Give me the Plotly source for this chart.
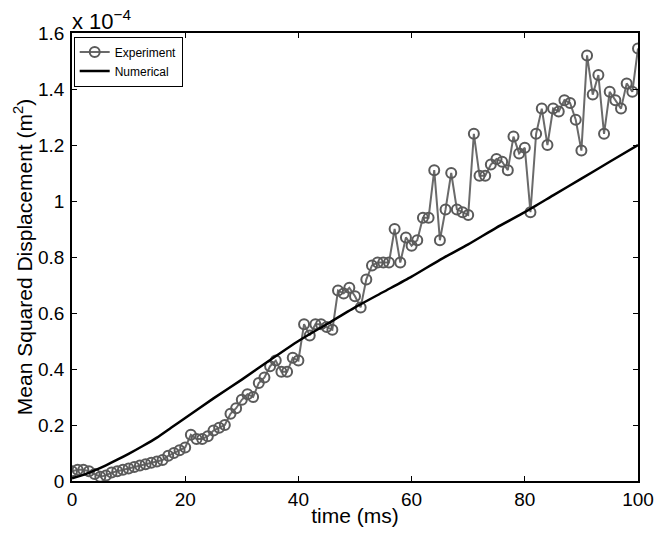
import plotly.graph_objects as go

# values in units of 1e-4 m^2
time_exp = list(range(0, 101))
msd_exp = [
    0.035, 0.04, 0.04, 0.035, 0.025, 0.015, 0.02, 0.03, 0.035, 0.04,
    0.045, 0.05, 0.055, 0.06, 0.065, 0.07, 0.075, 0.09, 0.10, 0.11,
    0.12, 0.165, 0.15, 0.15, 0.16, 0.18, 0.19, 0.20, 0.24, 0.26,
    0.29, 0.31, 0.30, 0.35, 0.37, 0.41, 0.43, 0.39, 0.39, 0.44,
    0.43, 0.56, 0.52, 0.56, 0.56, 0.55, 0.54, 0.68, 0.67, 0.69,
    0.66, 0.62, 0.72, 0.77, 0.78, 0.78, 0.78, 0.90, 0.78, 0.87,
    0.84, 0.86, 0.94, 0.94, 1.11, 0.86, 0.97, 1.10, 0.97, 0.96,
    0.95, 1.24, 1.09, 1.09, 1.13, 1.15, 1.14, 1.11, 1.23, 1.17,
    1.19, 0.96, 1.24, 1.33, 1.20, 1.33, 1.32, 1.36, 1.35, 1.29,
    1.18, 1.52, 1.38, 1.45, 1.24, 1.39, 1.36, 1.33, 1.42, 1.39,
    1.545,
]

time_num = [0, 2, 4, 6, 8, 10, 12.5, 15, 17.5, 20, 25, 30, 35, 40, 45, 50, 55, 60, 65, 70, 75, 80, 85, 90, 95, 100]
msd_num = [0.01, 0.022, 0.038, 0.056, 0.076, 0.097, 0.125, 0.155, 0.19, 0.225, 0.295, 0.362, 0.432, 0.50,
           0.56, 0.62, 0.675, 0.73, 0.79, 0.845, 0.905, 0.96, 1.02, 1.08, 1.14, 1.20]

x_ticks = [0, 20, 40, 60, 80, 100]
y_ticks = [0, 0.2, 0.4, 0.6, 0.8, 1.0, 1.2, 1.4, 1.6]
y_ticklabels = ["0", "0.2", "0.4", "0.6", "0.8", "1", "1.2", "1.4", "1.6"]

FONT = "Liberation Sans, Arial, sans-serif"

fig = go.Figure()
fig.add_trace(go.Scatter(
    x=time_exp, y=msd_exp, mode="lines+markers", name="Experiment",
    line=dict(color="#6a6a6a", width=2),
    marker=dict(symbol="circle-open", size=10, color="#5a5a5a", line=dict(width=2)),
))
fig.add_trace(go.Scatter(
    x=time_num, y=msd_num, mode="lines", name="Numerical",
    line=dict(color="black", width=2.5, shape="spline", smoothing=0.6),
))

axis_common = dict(
    showline=True, linecolor="black", linewidth=1.5, mirror="ticks",
    ticks="inside", ticklen=5, tickcolor="black", tickwidth=1,
    showgrid=False, zeroline=False,
    tickfont=dict(family=FONT, size=19, color="black"),
)

fig.update_xaxes(range=[0, 100], tickvals=x_ticks,
                 title=dict(text="time (ms)", font=dict(family=FONT, size=21, color="black"), standoff=0),
                 **axis_common)
fig.update_yaxes(range=[0, 1.6], tickvals=y_ticks, ticktext=y_ticklabels, ticklabelstandoff=2,
                 title=dict(text="Mean Squared Displacement (m<sup>2</sup>)",
                            font=dict(family=FONT, size=21, color="black"), standoff=0),
                 **axis_common)

fig.add_annotation(xref="paper", yref="paper", x=0.0, y=1.0, xanchor="left", yanchor="bottom",
                   text="x 10<sup>−4</sup>", showarrow=False, yshift=-3, xshift=-2,
                   font=dict(family=FONT, size=22, color="black"))

fig.update_layout(
    width=671, height=535,
    margin=dict(l=72, r=33, t=33, b=54),
    paper_bgcolor="white", plot_bgcolor="white",
    showlegend=True,
    legend=dict(x=0.003, y=0.992, xanchor="left", yanchor="top",
                bordercolor="black", borderwidth=1, bgcolor="white",
                font=dict(family=FONT, size=12, color="black"),
                tracegroupgap=0, itemwidth=30),
)

fig.write_html("out.html")
